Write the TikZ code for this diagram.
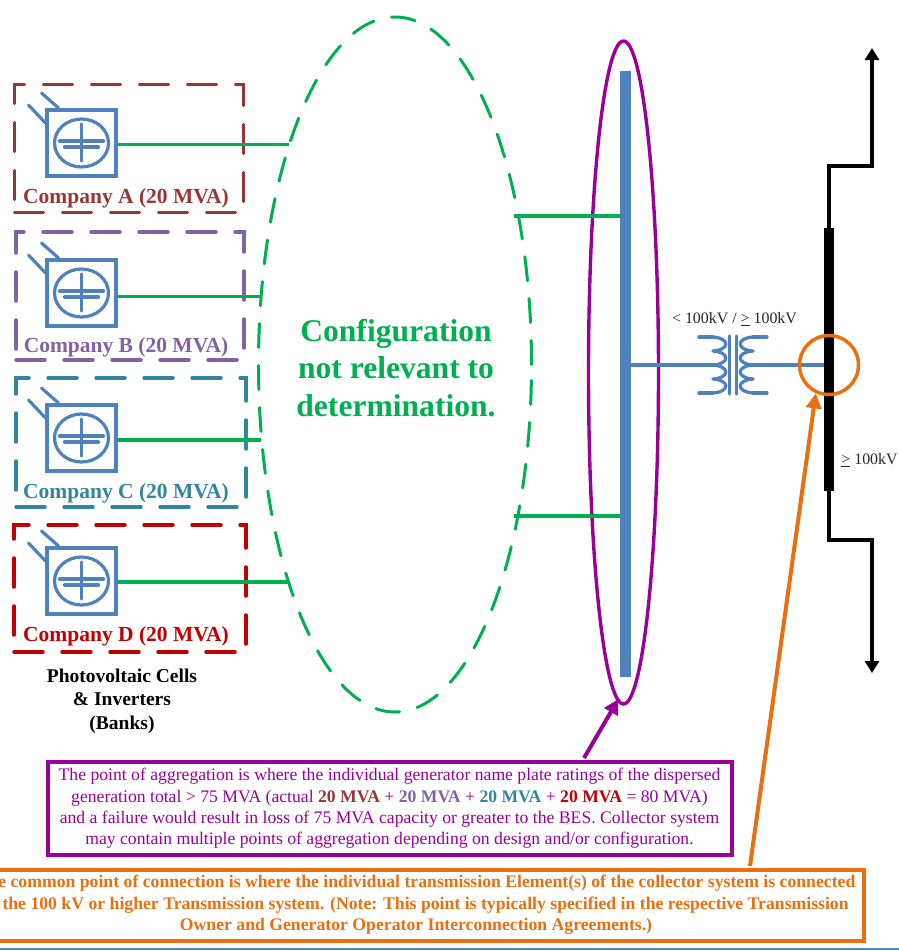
\documentclass[tikz,border=0pt]{standalone}
\usepackage{fontspec}
\setmainfont{Liberation Serif}
\usepackage{xcolor}
\usetikzlibrary{shapes,positioning,arrows.meta}
\definecolor{compa}{HTML}{953735}
\definecolor{compb}{HTML}{8064A2}
\definecolor{compc}{HTML}{31859C}
\definecolor{compd}{HTML}{C00000}
\definecolor{invblue}{HTML}{4F81BD}
\definecolor{linkgreen}{HTML}{00B050}
\definecolor{aggpurple}{HTML}{990099}
\definecolor{cpcorange}{HTML}{E96F0F}
\tikzset{
  compbox/.style={draw,rectangle,line width=3.5pt,line cap=round,dash pattern=on 29pt off 19pt,inner sep=0pt},
  invbox/.style={draw=invblue,rectangle,line width=3.2pt,minimum width=69pt,minimum height=66pt,inner sep=0pt},
  invcirc/.style={draw=invblue,ellipse,line width=3.2pt,minimum width=54pt,minimum height=48pt,inner sep=0pt},
  complabel/.style={font=\fontsize{21.5}{24}\selectfont\bfseries},
  kvlabel/.style={font=\fontsize{15.9}{18}\selectfont,text=black!85},
  link/.style={draw=linkgreen,line width=3.2pt},
  wire/.style={draw=invblue,line width=3.2pt,line cap=round},
  noteagg/.style={draw=aggpurple,line width=4pt,text=aggpurple,align=center,inner sep=0pt,minimum width=684pt,minimum height=93pt,font=\fontsize{17.65}{21.4}\selectfont},
  notecpc/.style={draw=cpcorange,line width=4pt,text=cpcorange,align=center,inner sep=0pt,minimum width=896pt,minimum height=71pt,font=\fontsize{17.7}{21.6}\selectfont\bfseries},
  tiparrow/.style={-{Triangle[length=15pt,width=15pt]},line width=4pt},
  linearrow/.style={-{Triangle[length=12pt,width=14pt]},line width=4.5pt}
}

\begin{document}
\begin{tikzpicture}[x=1pt,y=-1pt]
    \useasboundingbox (0,0) rectangle (899,951);
    \clip (0,0) rectangle (899,951);

    % configuration cloud and point of aggregation
    \node[ellipse,draw=linkgreen,line width=3pt,line cap=round,dash pattern=on 24pt off 18pt,minimum width=273pt,minimum height=695pt,inner sep=0pt] (cloud) at (395,364.5) {};
    \node[font=\fontsize{31.6}{37.5}\selectfont\bfseries,text=linkgreen,align=center] (cfg) at (396,368) {Configuration\\not relevant to\\determination.};
    \node[ellipse,draw=aggpurple,line width=3.4pt,minimum width=70pt,minimum height=663pt,inner sep=0pt] (agg) at (623.5,372.5) {};
    \node[fill=invblue,minimum width=10.5pt,minimum height=606pt,inner sep=0pt] (bus) at (625.5,374) {};

    % company banks
    \foreach \nm/\txt/\col/\bx/\by/\bw/\bh/\iy/\ex/\ey/\ly in {
        a/A/compa/129/148.5/229/128/143/289/144.5/198,
        b/B/compb/130/296/228/128/293/261/296.5/347,
        c/C/compc/131/442.5/230/129/438/261/440/493,
        d/D/compd/130/588.5/232/127/581/289/582/636}{
      \node[compbox,draw=\col,minimum width=\bw pt,minimum height=\bh pt] (box\nm) at (\bx,\by) {};
      \node[invbox] (inv\nm) at (81.5,\iy) {};
      \node[invcirc] (cir\nm) at (inv\nm.center) {};
      \draw[wire] ([shift={(-22,-2)}]cir\nm.center) -- ([shift={(22,-2)}]cir\nm.center);
      \draw[wire] ([shift={(-17,4)}]cir\nm.center) -- ([shift={(17,4)}]cir\nm.center);
      \draw[wire] ([shift={(0,-19)}]cir\nm.center) -- ([shift={(0,18)}]cir\nm.center);
      \draw[wire] ([shift={(-53,-38)}]inv\nm.center) -- ([shift={(-36,-20)}]inv\nm.center);
      \draw[wire] ([shift={(-40,-50)}]inv\nm.center) -- ([shift={(-23,-35)}]inv\nm.center);
      \coordinate (end\nm) at (\ex,\ey);
      \draw[link] (inv\nm.east |- end\nm) -- (end\nm);
      \node[complabel,text=\col] (lab\nm) at (126,\ly) {Company \txt{} (20 MVA)};
    }
    \node[font=\fontsize{19.5}{23.5}\selectfont\bfseries,align=center] (banks) at (122,701) {Photovoltaic Cells\\\& Inverters\\(Banks)};

    % cloud to bus
    \coordinate (upl) at (514,216);
    \coordinate (lol) at (514,516);
    \draw[link] (upl) -- (upl -| bus.west);
    \draw[link] (lol) -- (lol -| bus.west);

    % transformer
    \coordinate (txl) at (713,365);
    \coordinate (txr) at (753,365);
    \draw[wire] (bus.east |- txl) -- (txl);
    \draw[wire] (txr) -- (829,365);
    \draw[wire] (699,337) -- (713,337);
    \draw[wire] (753,337) -- (767,337);
    \draw[wire] (699,393) -- (713,393);
    \draw[wire] (753,393) -- (767,393);
    \foreach \t in {337,351,365,379}{
      \draw[wire] (713,\t) .. controls (730,\t+1) and (730,\t+13) .. (713,\t+14);
      \draw[wire] (753,\t) .. controls (736,\t+1) and (736,\t+13) .. (753,\t+14);
    }
    \draw[wire] (729.5,336) -- (729.5,394);
    \draw[wire] (736.5,336) -- (736.5,394);
    \node[kvlabel] (kvtx) at (734.5,319) {< 100kV / \underline{>} 100kV};

    % transmission line
    \coordinate (lntop) at (872,48);
    \coordinate (lnbot) at (872,673);
    \node[fill=black,minimum width=9.5pt,minimum height=263pt,inner sep=0pt] (hvbus) at (829,359) {};
    \draw[linearrow] (hvbus.center) |- (872,166) -- (lntop);
    \draw[linearrow] (hvbus.center) |- (872,540) -- (lnbot);
    \node[kvlabel] (kvhv) at (869.5,460) {\underline{>} 100kV};

    % point of connection
    \node[circle,draw=cpcorange,line width=3.5pt,minimum size=59pt,inner sep=0pt] (cpc) at (829,365) {};

    % notes
    \node[noteagg] (nagg) at (389.5,808.5) {The point of aggregation is where the individual generator name plate ratings of the dispersed\\generation total > 75 MVA (actual \textcolor{compa}{\textbf{20 MVA}} + \textcolor{compb}{\textbf{20 MVA}} + \textcolor{compc}{\textbf{20 MVA}} + \textcolor{compd}{\textbf{20 MVA}} = 80 MVA)\\and a failure would result in loss of 75 MVA capacity or greater to the BES. Collector system\\may contain multiple points of aggregation depending on design and/or configuration.};
    \node[notecpc] (ncpc) at (416,905) {The common point of connection is where the individual transmission Element(s) of the collector system is connected\\to the 100 kV or higher Transmission system. (Note: This point is typically specified in the respective Transmission\\Owner and Generator Operator Interconnection Agreements.)};
    \coordinate (nagg1) at (584,758);
    \coordinate (ncpc1) at (750,866);
    \coordinate (aggtip) at (618.5,699);
    \draw[tiparrow,draw=aggpurple,fill=aggpurple] (nagg1) -- (aggtip);
    \draw[tiparrow,draw=cpcorange,fill=cpcorange] (ncpc1) -- (cpc.245);
    \draw[line width=2pt,draw=cyan!60!blue!80] (0,949) -- (899,949);
\end{tikzpicture}
\end{document}
